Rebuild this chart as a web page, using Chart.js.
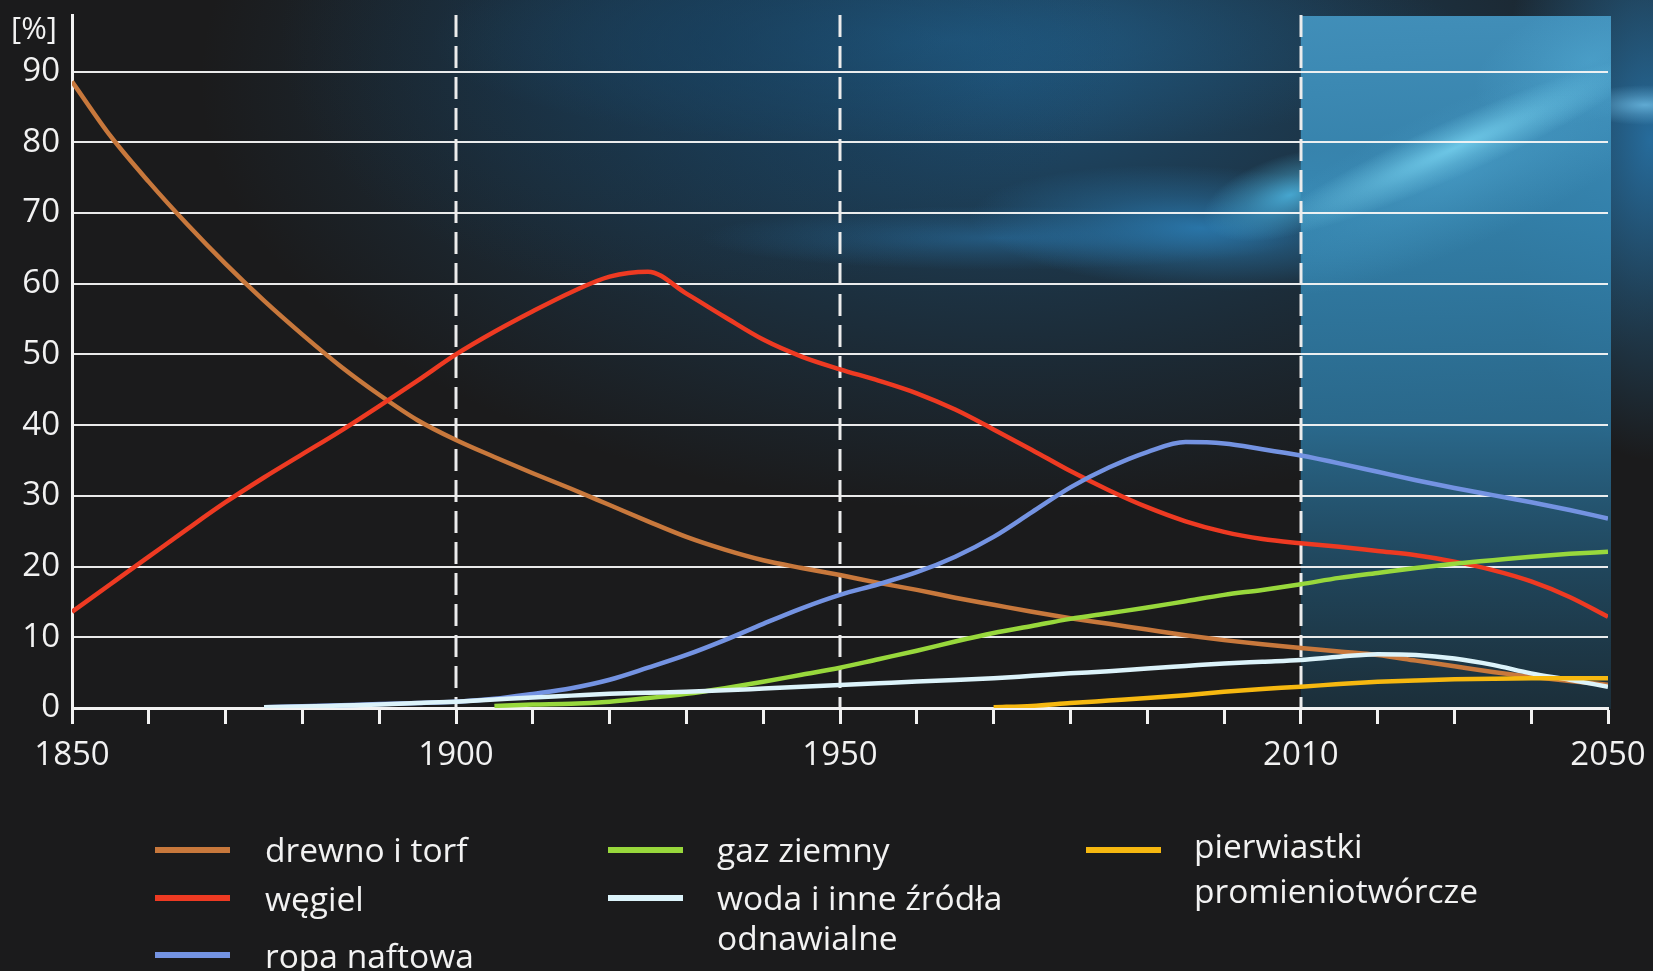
<!doctype html>
<html lang="pl">
<head>
<meta charset="utf-8">
<title>Udział źródeł energii</title>
<script src="https://cdn.jsdelivr.net/npm/chart.js@4.4.1/dist/chart.umd.min.js"></script>
<style>
  html, body { margin: 0; padding: 0; background: #1b1b1c; }
  #wrap { position: relative; width: 1653px; height: 971px; overflow: hidden;
          font-family: "Open Sans", sans-serif; color: #f2f2f2; }
  #wrap canvas { position: absolute; left: 0; top: 0; }
  .unit { position: absolute; left: 11px; top: 6px; font-size: 31px; }
  .leg { position: absolute; font-size: 33.5px; line-height: 45px; white-space: nowrap; }
  .bar { position: absolute; width: 75px; height: 6px; }
</style>
</head>
<body>
<div id="wrap">
  <canvas id="myChart" width="1653" height="971"></canvas>
  <div class="unit">[%]</div>

  <!-- legend -->
  <div class="bar" style="left:155px; top:847px; background:#c8783c"></div>
  <div class="leg" style="left:265px; top:827px">drewno i torf</div>
  <div class="bar" style="left:155px; top:895px; background:#ee3a22"></div>
  <div class="leg" style="left:265px; top:876px">węgiel</div>
  <div class="bar" style="left:155px; top:952px; background:#7493e2"></div>
  <div class="leg" style="left:265px; top:933px">ropa naftowa</div>

  <div class="bar" style="left:608px; top:847px; background:#98d83c"></div>
  <div class="leg" style="left:717px; top:827px">gaz ziemny</div>
  <div class="bar" style="left:608px; top:895px; background:#dcf3fa"></div>
  <div class="leg" style="left:717px; top:877px; line-height:40px">woda i inne źródła<br>odnawialne</div>

  <div class="bar" style="left:1086px; top:847px; background:#f6b810"></div>
  <div class="leg" style="left:1194px; top:823px">pierwiastki<br>promieniotwórcze</div>
</div>

<script>
  // years (every 5) and share of each source in %
  var years = [1850, 1855, 1860, 1865, 1870, 1875, 1880, 1885, 1890, 1895,
               1900, 1905, 1910, 1915, 1920, 1925, 1930, 1935, 1940, 1945,
               1950, 1955, 1960, 1965, 1970, 1975, 1980, 1985, 1990, 1995,
               2000, 2005, 2010, 2015, 2020, 2025, 2030, 2035, 2040, 2045, 2050];

  var drewno = [88.6, 80.9, 74.4, 68.4, 62.8, 57.6, 52.8, 48.3, 44.3, 40.7,
                37.9, 35.5, 33.2, 31.0, 28.7, 26.4, 24.2, 22.4, 20.9, 19.8,
                18.8, 17.7, 16.7, 15.6, 14.6, 13.6, 12.7, 11.9, 11.1, 10.3,
                9.6, 9.0, 8.5, 8.0, 7.5, 6.7, 5.9, 5.1, 4.4, 3.8, 3.3];

  var wegiel = [13.6, 17.5, 21.4, 25.3, 29.1, 32.6, 35.9, 39.2, 42.7, 46.3,
                50.0, 53.2, 56.1, 58.8, 61.0, 61.7, 58.6, 55.3, 52.1, 49.7,
                47.9, 46.3, 44.5, 42.2, 39.4, 36.5, 33.5, 30.8, 28.4, 26.4,
                24.9, 23.9, 23.3, 22.8, 22.2, 21.6, 20.7, 19.5, 17.9, 15.7, 12.9];

  var ropa = [null, null, null, null, null, 0.1, 0.25, 0.4, 0.55, 0.7,
              0.9, 1.3, 2.0, 2.8, 4.0, 5.7, 7.5, 9.6, 11.9, 14.1,
              16.0, 17.5, 19.2, 21.4, 24.2, 27.7, 31.2, 34.0, 36.2, 37.6,
              37.4, 36.6, 35.7, 34.6, 33.4, 32.2, 31.1, 30.1, 29.1, 28.0, 26.8];

  var gaz = [null, null, null, null, null, null, null, null, null, null,
             null, 0.3, 0.5, 0.6, 0.9, 1.4, 2.0, 2.8, 3.7, 4.7,
             5.7, 6.9, 8.1, 9.4, 10.6, 11.6, 12.6, 13.4, 14.2, 15.1,
             16.0, 16.7, 17.5, 18.4, 19.1, 19.8, 20.4, 20.9, 21.4, 21.8, 22.1];

  var woda = [null, null, null, null, null, 0.1, 0.2, 0.35, 0.5, 0.7,
              0.9, 1.2, 1.5, 1.75, 2.0, 2.15, 2.3, 2.5, 2.75, 3.0,
              3.25, 3.5, 3.75, 3.95, 4.2, 4.55, 4.9, 5.2, 5.6, 5.95,
              6.3, 6.55, 6.8, 7.25, 7.6, 7.5, 7.0, 6.1, 4.9, 4.0, 3.0];

  var pierwiastki = [null, null, null, null, null, null, null, null, null, null,
                     null, null, null, null, null, null, null, null, null, null,
                     null, null, null, null, 0.1, 0.3, 0.7, 1.05, 1.4, 1.8,
                     2.3, 2.7, 3.0, 3.4, 3.7, 3.9, 4.05, 4.15, 4.2, 4.2, 4.2];

  var yTicks = [0, 10, 20, 30, 40, 50, 60, 70, 80, 90];
  var xLabels = [1850, 1900, 1950, 2010, 2050];
  var dashedYears = [1900, 1950, 2010];
  var forecastFrom = 2010;

  function pts(vals) {
    return years.map(function (yr, i) { return { x: yr, y: vals[i] }; });
  }

  // background with blue glow + forecast box
  var backdrop = {
    id: 'backdrop',
    beforeDraw: function (chart) {
      var ctx = chart.ctx, W = chart.width, H = chart.height;
      var xs = chart.scales.x, ys = chart.scales.y;
      var top = chart.chartArea.top, bottom = ys.getPixelForValue(0);
      ctx.save();
      ctx.fillStyle = '#1b1b1c';
      ctx.fillRect(0, 0, W, H);

      function glow(cx, cy, rx, ry, ang, col, a) {
        ctx.save();
        ctx.translate(cx, cy);
        ctx.rotate(ang);
        ctx.scale(rx / 100, ry / 100);
        var g = ctx.createRadialGradient(0, 0, 0, 0, 0, 100);
        g.addColorStop(0, 'rgba(' + col + ',' + a + ')');
        g.addColorStop(0.5, 'rgba(' + col + ',' + (a * 0.45) + ')');
        g.addColorStop(1, 'rgba(' + col + ',0)');
        ctx.fillStyle = g;
        ctx.beginPath();
        ctx.arc(0, 0, 100, 0, Math.PI * 2);
        ctx.fill();
        ctx.restore();
      }
      glow(1000, 80, 800, 430, 0, '30,82,120', 0.9);
      glow(950, 40, 520, 110, 0, '34,100,145', 0.6);
      glow(700, 40, 420, 260, 0, '22,60,90', 0.6);
      glow(1000, 238, 300, 32, 0, '45,130,190', 0.45);
      glow(1200, 228, 230, 62, 0.05, '45,135,195', 0.75);
      glow(1290, 195, 90, 40, -0.3, '80,190,235', 0.8);
      glow(1650, 140, 150, 320, 0, '40,120,175', 0.85);
      glow(1645, 105, 70, 20, 0, '120,200,240', 0.7);

      // forecast box
      var x0 = xs.getPixelForValue(forecastFrom), x1 = xs.right + 3;
      var g = ctx.createLinearGradient(0, top, 0, bottom);
      g.addColorStop(0, 'rgba(66,145,188,0.97)');
      g.addColorStop(0.3, 'rgba(52,132,175,0.92)');
      g.addColorStop(0.6, 'rgba(44,116,156,0.85)');
      g.addColorStop(0.8, 'rgba(34,86,116,0.72)');
      g.addColorStop(1, 'rgba(28,60,78,0.6)');
      ctx.fillStyle = g;
      ctx.fillRect(x0, top + 1, x1 - x0, bottom - top);
      ctx.save();
      ctx.beginPath();
      ctx.rect(x0, top + 1, x1 - x0, bottom - top);
      ctx.clip();
      glow(1460, 175, 260, 70, -0.42, '90,185,228', 0.35);
      glow(1455, 148, 210, 28, -0.42, '125,218,246', 0.75);
      glow(1590, 60, 120, 60, -0.3, '95,190,230', 0.35);
      ctx.restore();
      ctx.restore();
    },
    beforeDatasetsDraw: function (chart) {
      var ctx = chart.ctx, xs = chart.scales.x, ys = chart.scales.y;
      ctx.save();
      ctx.strokeStyle = '#ececec';
      ctx.lineWidth = 3;
      ctx.setLineDash([22, 9]);
      dashedYears.forEach(function (yr) {
        var x = Math.round(xs.getPixelForValue(yr));
        ctx.beginPath();
        ctx.moveTo(x, chart.chartArea.top);
        ctx.lineTo(x, ys.getPixelForValue(0));
        ctx.stroke();
      });
      ctx.restore();
    }
  };

  var ds = function (label, vals, color, order) {
    return {
      label: label, data: pts(vals), borderColor: color, backgroundColor: color,
      borderWidth: 4.5, pointRadius: 0, cubicInterpolationMode: 'monotone',
      fill: false, order: order
    };
  };

  var ctx = document.getElementById('myChart').getContext('2d');
  var myChart = new Chart(ctx, {
    type: 'line',
    data: {
      datasets: [
        ds('drewno i torf', drewno, '#c8783c', 6),
        ds('węgiel', wegiel, '#ee3a22', 5),
        ds('ropa naftowa', ropa, '#7493e2', 4),
        ds('gaz ziemny', gaz, '#98d83c', 3),
        ds('woda i inne źródła odnawialne', woda, '#dcf3fa', 2),
        ds('pierwiastki promieniotwórcze', pierwiastki, '#f6b810', 1)
      ]
    },
    plugins: [backdrop],
    options: {
      responsive: false,
      animation: false,
      layout: { padding: { left: 0, right: 45, top: 15, bottom: 183 } },
      plugins: { legend: { display: false }, tooltip: { enabled: false } },
      scales: {
        x: {
          type: 'linear', min: 1850, max: 2050,
          afterFit: function (s) { s.height = 80; s.paddingLeft = 0; s.paddingRight = 0; },
          afterBuildTicks: function (s) {
            var t = [];
            for (var v = 1850; v <= 2050; v += 10) t.push({ value: v });
            s.ticks = t;
          },
          ticks: {
            autoSkip: false, maxRotation: 0, padding: 12,
            color: '#f2f2f2', font: { family: 'Open Sans', size: 33 },
            callback: function (v) { return xLabels.indexOf(v) >= 0 ? String(v) : ''; }
          },
          grid: { drawOnChartArea: false, drawTicks: true, tickLength: 16,
                  tickColor: '#f2f2f2', tickWidth: 3 },
          border: { display: true, color: '#f2f2f2', width: 3 }
        },
        y: {
          min: 0, max: 98,
          afterFit: function (s) { s.width = 72; s.paddingTop = 0; s.paddingBottom = 0; },
          afterBuildTicks: function (s) {
            s.ticks = yTicks.map(function (v) { return { value: v }; });
          },
          ticks: { padding: 12, color: '#f2f2f2', font: { family: 'Open Sans', size: 33 } },
          grid: { color: 'rgba(245,245,245,0.95)', lineWidth: 2, drawTicks: false },
          border: { display: true, color: '#f2f2f2', width: 3 }
        }
      }
    }
  });
</script>
</body>
</html>
